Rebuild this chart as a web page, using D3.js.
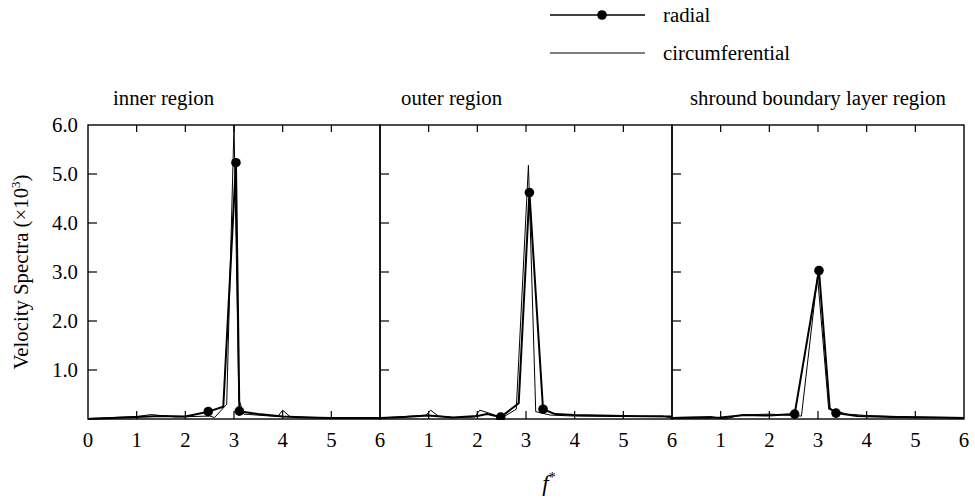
<!DOCTYPE html>
<html>
<head>
<meta charset="utf-8">
<script src="https://cdn.jsdelivr.net/npm/d3@7"></script>
<style>
  body { margin: 0; background: #fff; }
  svg text { font-family: "Liberation Serif", "DejaVu Serif", serif; fill: #000; }
</style>
</head>
<body>
<svg id="chart" width="975" height="500"></svg>
<script>
// Panel titles
const regions = ["inner region", "outer region", "shround boundary layer region"];

// Velocity spectra, [f*, value ×10^3]
const radialInner = [[0,0],[0.5,0.02],[1,0.04],[1.5,0.06],[2,0.05],[2.47,0.15],[2.78,0.25],[3.04,5.23],[3.11,0.16],[3.5,0.1],[4,0.05],[4.5,0.03],[5,0.02],[6,0.02]];
const circInner   = [[0,0.01],[1,0.05],[1.3,0.09],[1.8,0.04],[2.5,0.06],[2.6,0.03],[2.85,0.3],[3.0,6.0],[3.1,0.4],[3.2,0.1],[3.9,0.05],[4.0,0.18],[4.15,0.05],[5,0.02],[6,0.02]];

const radialOuter = [[0,0.02],[0.5,0.04],[1,0.07],[1.5,0.03],[2,0.06],[2.2,0.1],[2.48,0.04],[2.85,0.32],[3.07,4.62],[3.35,0.2],[3.6,0.1],[4,0.08],[5,0.06],[6,0.05]];
const circOuter   = [[0,0.02],[0.5,0.05],[0.95,0.08],[1.04,0.18],[1.2,0.06],[1.5,0.03],[1.95,0.04],[2.05,0.18],[2.3,0.1],[2.5,0.02],[2.8,0.2],[3.05,5.18],[3.2,0.15],[3.5,0.08],[4,0.06],[5,0.05],[5.8,0.06],[6,0.02]];

const radialShroud = [[0,0.02],[1,0.03],[1.5,0.08],[2,0.07],[2.52,0.1],[3.02,3.03],[3.24,0.22],[3.37,0.12],[3.8,0.06],[4.5,0.04],[5.5,0.03],[6,0.02]];
const circShroud   = [[0,0.03],[0.8,0.05],[1.1,0.0],[1.4,0.08],[2,0.1],[2.66,0.06],[2.99,2.92],[3.22,0.2],[3.6,0.1],[4,0.07],[5,0.04],[6,0.02]];

// Indices of radial points carrying a filled marker
const markersInner  = [5, 7, 8];
const markersOuter  = [6, 8, 9];
const markersShroud = [4, 5, 7];

const radialSeries = [radialInner, radialOuter, radialShroud];
const circSeries   = [circInner, circOuter, circShroud];
const markerSets   = [markersInner, markersOuter, markersShroud];

// Axis ticks
const xTicks = [0, 1, 2, 3, 4, 5, 6];
const yTicks = [1, 2, 3, 4, 5, 6];
const yTickLabels = ["1.0", "2.0", "3.0", "4.0", "5.0", "6.0"];

// Legend
const legendItems = ["radial", "circumferential"];

const svg = d3.select("#chart");
const panelLeft = 88, panelW = 292, plotTop = 125, plotBottom = 419;
const fontSize = 20.8;

const y = d3.scaleLinear().domain([0, 6]).range([plotBottom, plotTop]);

svg.append("defs").append("clipPath").attr("id", "plotclip")
  .append("rect").attr("x", panelLeft).attr("y", plotTop - 1)
  .attr("width", panelW * 3).attr("height", plotBottom - plotTop + 2);

regions.forEach((name, i) => {
  const x0 = panelLeft + i * panelW;
  const x = d3.scaleLinear().domain([0, 6]).range([x0, x0 + panelW]);
  const g = svg.append("g");

  // frame
  g.append("rect").attr("x", x0).attr("y", plotTop)
    .attr("width", panelW).attr("height", plotBottom - plotTop)
    .attr("fill", "none").attr("stroke", "#000").attr("stroke-width", 1.4);

  // inner ticks: bottom, top, left
  const inner = xTicks.slice(1, -1);
  g.selectAll(".tb").data(inner).join("line")
    .attr("x1", d => x(d)).attr("x2", d => x(d))
    .attr("y1", plotBottom).attr("y2", plotBottom - 8)
    .attr("stroke", "#000").attr("stroke-width", 1.2);
  g.selectAll(".tt").data(inner).join("line")
    .attr("x1", d => x(d)).attr("x2", d => x(d))
    .attr("y1", plotTop).attr("y2", plotTop + 7)
    .attr("stroke", "#000").attr("stroke-width", 1.2);
  g.selectAll(".tl").data(yTicks.slice(0, -1)).join("line")
    .attr("x1", x0).attr("x2", x0 + 9)
    .attr("y1", d => y(d)).attr("y2", d => y(d))
    .attr("stroke", "#000").attr("stroke-width", 1.2);

  // x tick labels
  const labels = i === 0 ? xTicks : xTicks.slice(1);
  g.selectAll(".xl").data(labels).join("text")
    .attr("x", d => x(d)).attr("y", 447)
    .attr("text-anchor", "middle").attr("font-size", fontSize)
    .text(d => d);

  // y tick labels on the first panel
  if (i === 0) {
    g.selectAll(".yl").data(yTicks).join("text")
      .attr("x", x0 - 10).attr("y", d => y(d) + 7)
      .attr("text-anchor", "end").attr("font-size", fontSize)
      .text((d, k) => yTickLabels[k]);
  }

  // title
  const titleX = [113, 401, 690][i];
  g.append("text").attr("x", titleX).attr("y", 105)
    .attr("font-size", fontSize).text(name);

  const line = d3.line().x(d => x(d[0])).y(d => y(d[1]));
  const plot = g.append("g").attr("clip-path", "url(#plotclip)");

  plot.append("path").datum(circSeries[i]).attr("d", line)
    .attr("fill", "none").attr("stroke", "#000").attr("stroke-width", 1)
    .attr("stroke-linejoin", "round");
  plot.append("path").datum(radialSeries[i]).attr("d", line)
    .attr("fill", "none").attr("stroke", "#000").attr("stroke-width", 2)
    .attr("stroke-linejoin", "round");
  plot.selectAll("circle").data(markerSets[i].map(k => radialSeries[i][k])).join("circle")
    .attr("cx", d => x(d[0])).attr("cy", d => y(d[1])).attr("r", 4.8)
    .attr("fill", "#000");
});

// y axis title
svg.append("text")
  .attr("transform", "translate(28," + ((plotTop + plotBottom) / 2) + ") rotate(-90)")
  .attr("text-anchor", "middle").attr("font-size", fontSize)
  .call(t => {
    t.append("tspan").text("Velocity Spectra (\u00d710");
    t.append("tspan").attr("font-size", 13).attr("dy", -8).text("3");
    t.append("tspan").attr("dy", 8).text(")");
  });

// x axis title
svg.append("text").attr("x", 549).attr("y", 491)
  .attr("text-anchor", "middle").attr("font-size", 23).attr("font-style", "italic")
  .call(t => {
    t.append("tspan").text("f");
    t.append("tspan").attr("font-size", 14).attr("dy", -9).attr("font-style", "normal").text("*");
  });

// legend
const lg = svg.append("g");
legendItems.forEach((name, k) => {
  const ly = 15 + k * 38;
  lg.append("line").attr("x1", 550).attr("x2", 645).attr("y1", ly).attr("y2", ly)
    .attr("stroke", "#000").attr("stroke-width", k === 0 ? 1.6 : 1.1);
  if (k === 0) lg.append("circle").attr("cx", 602).attr("cy", ly).attr("r", 4.8).attr("fill", "#000");
  lg.append("text").attr("x", 663).attr("y", ly + 7).attr("font-size", fontSize).text(name);
});
</script>
</body>
</html>
